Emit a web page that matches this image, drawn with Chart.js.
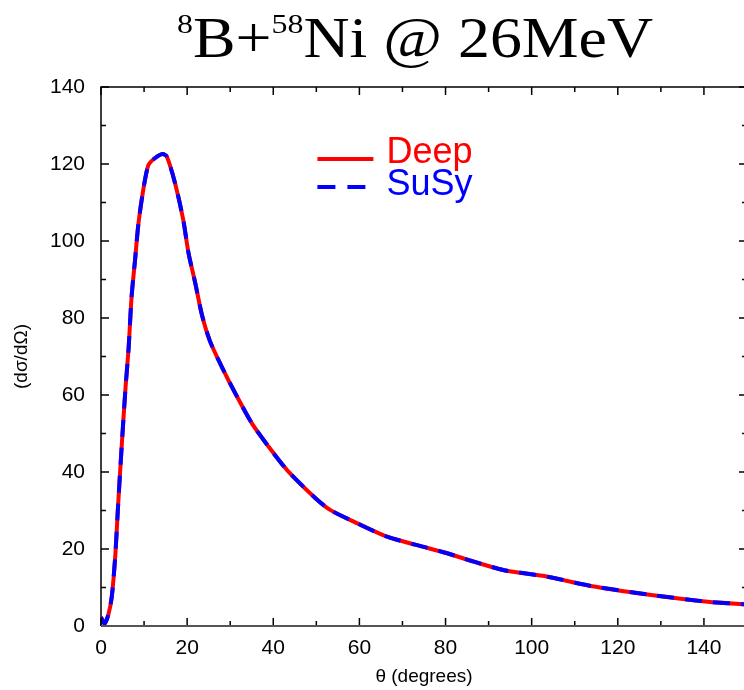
<!DOCTYPE html>
<html>
<head>
<meta charset="utf-8">
<script src="https://cdn.jsdelivr.net/npm/chart.js@4/dist/chart.umd.min.js"></script>
<style>
  html, body { margin: 0; padding: 0; background: #fff; overflow: hidden; }
  #wrap { position: relative; width: 752px; height: 690px; }
  #title {
    position: absolute; left: 0; top: 8px; width: 830px; text-align: center;
    font-family: "Liberation Serif", "Times New Roman", serif; font-size: 56px;
    color: #000; line-height: 60px; white-space: nowrap;
    transform: scaleX(1.14); transform-origin: 415px 0;
  }
  #title sup { font-size: 28px; vertical-align: 24px; line-height: 0; }
</style>
</head>
<body>
<div id="wrap">
  <canvas id="crossSectionChart" width="752" height="690"></canvas>
  <div id="title"><sup>8</sup>B+<sup>58</sup>Ni @ 26MeV</div>
</div>
<script>
// angle (degrees) and cross section values
const theta = [0, 0.8, 1.7, 2.5, 3.3, 4.0, 4.8, 5.7, 6.4, 7.1, 7.9, 8.7, 9.8, 11.0, 12.5, 14.3, 15.3, 17.2, 19.1, 20.3,
               21.9, 23.4, 25.3, 28.1, 31.2, 35.0, 38.9, 43.2, 49.8, 53.3, 58.7, 66.4, 73.4, 80.4, 86.6, 93.6,
               103.7, 113.7, 126.9, 140.9, 150];
const deep = [2.3, 0.6, 2.9, 7.6, 18, 31.9, 46.6, 62, 72, 85.5, 95, 104.6, 113.2, 119.7, 121.5, 122.6, 121.9, 115, 105.5, 97,
              89, 81, 74, 67.2, 60.4, 52.7, 46.6, 40.5, 33.2, 30.1, 27.1, 23.2, 21.0, 18.9, 16.7, 14.5,
              12.8, 10.4, 8.2, 6.3, 5.6];
const susy = [2.3, 0.6, 2.9, 7.6, 18, 31.9, 46.6, 62, 72, 85.5, 95, 104.6, 113.2, 119.7, 121.5, 122.6, 121.9, 115, 105.5, 97,
              89, 81, 74, 67.2, 60.4, 52.7, 46.6, 40.5, 33.2, 30.1, 27.1, 23.2, 21.0, 18.9, 16.7, 14.5,
              12.8, 10.4, 8.2, 6.3, 5.6];
const xTicks = [0, 20, 40, 60, 80, 100, 120, 140];
const yTicks = [0, 20, 40, 60, 80, 100, 120, 140];
const seriesNames = ['Deep', 'SuSy'];

const toPoints = ys => theta.map((t, i) => ({ x: t, y: ys[i] }));

// frame with inward ticks on all four sides, plus the legend
const framePlugin = {
  id: 'frame',
  afterDraw(chart) {
    const { ctx, chartArea: a, scales: { x, y } } = chart;
    ctx.save();
    ctx.strokeStyle = '#000';
    ctx.lineWidth = 1.5;
    for (let v = 0; v <= 150; v += 10) {
      const px = x.getPixelForValue(v);
      const len = v % 20 === 0 ? 8 : 5;
      ctx.beginPath();
      ctx.moveTo(px, a.bottom); ctx.lineTo(px, a.bottom - len);
      ctx.moveTo(px, a.top); ctx.lineTo(px, a.top + len);
      ctx.stroke();
    }
    for (let v = 0; v <= 140; v += 10) {
      const py = y.getPixelForValue(v);
      const len = v % 20 === 0 ? 8 : 5;
      ctx.beginPath();
      ctx.moveTo(a.left, py); ctx.lineTo(a.left + len, py);
      ctx.moveTo(a.right, py); ctx.lineTo(a.right - len, py);
      ctx.stroke();
    }
    ctx.beginPath();
    ctx.moveTo(a.left, a.bottom); ctx.lineTo(a.left, a.top);
    ctx.lineTo(a.right, a.top); ctx.lineTo(a.right, a.bottom);
    ctx.stroke();
    ctx.strokeStyle = '#555';
    ctx.lineWidth = 2;
    ctx.beginPath();
    ctx.moveTo(a.left, a.bottom); ctx.lineTo(a.right, a.bottom);
    ctx.stroke();

    // legend
    const lx = a.left + 0.335 * a.width;
    const rows = [
      { name: seriesNames[0], color: '#ff0000', dash: [], y: a.top + 72, tb: 4 },
      { name: seriesNames[1], color: '#0000ff', dash: [18, 12], y: a.top + 100, tb: 8 }
    ];
    ctx.font = '36px "Liberation Sans", Arial, sans-serif';
    ctx.textBaseline = 'alphabetic';
    rows.forEach(r => {
      ctx.strokeStyle = r.color;
      ctx.lineWidth = 4;
      ctx.setLineDash(r.dash);
      ctx.beginPath();
      ctx.moveTo(lx, r.y); ctx.lineTo(lx + 56, r.y);
      ctx.stroke();
      ctx.setLineDash([]);
      ctx.fillStyle = r.color;
      ctx.fillText(r.name, lx + 69, r.y + r.tb);
    });
    ctx.restore();
  }
};

const canvas = document.getElementById('crossSectionChart');
new Chart(canvas.getContext('2d'), {
  type: 'line',
  data: {
    datasets: [
      {
        label: seriesNames[0],
        data: toPoints(deep),
        borderColor: '#ff0000',
        borderWidth: 4,
        pointRadius: 0,
        tension: 0.25,
        order: 1
      },
      {
        label: seriesNames[1],
        data: toPoints(susy),
        borderColor: '#0000ff',
        borderWidth: 4,
        borderDash: [17, 11],
        pointRadius: 0,
        tension: 0.25,
        order: 0
      }
    ]
  },
  options: {
    responsive: false,
    animation: false,
    layout: { padding: { top: 87, right: 5, left: 0, bottom: 0 } },
    plugins: { legend: { display: false }, tooltip: { enabled: false } },
    scales: {
      x: {
        type: 'linear',
        min: 0,
        max: 150,
        afterBuildTicks: s => { s.ticks = xTicks.map(v => ({ value: v })); },
        afterFit: s => { s.height = 64; },
        grid: { display: false },
        border: { display: false },
        ticks: { color: '#000', padding: 2, font: { family: '"Liberation Sans", Arial, sans-serif', size: 21 } },
        title: {
          display: true,
          text: 'θ (degrees)',
          color: '#000',
          padding: { top: 0, bottom: 2 },
          font: { family: '"Liberation Sans", Arial, sans-serif', size: 19 }
        }
      },
      y: {
        type: 'linear',
        min: 0,
        max: 140,
        afterBuildTicks: s => { s.ticks = yTicks.map(v => ({ value: v })); },
        afterFit: s => { s.width = 101; },
        grid: { display: false },
        border: { display: false },
        ticks: { color: '#000', padding: 8, font: { family: '"Liberation Sans", Arial, sans-serif', size: 21 } },
        title: {
          display: true,
          text: '(dσ/dΩ)',
          color: '#000',
          padding: { top: 10, bottom: 0 },
          font: { family: '"Liberation Sans", Arial, sans-serif', size: 19 }
        }
      }
    }
  },
  plugins: [framePlugin]
});
</script>
</body>
</html>
